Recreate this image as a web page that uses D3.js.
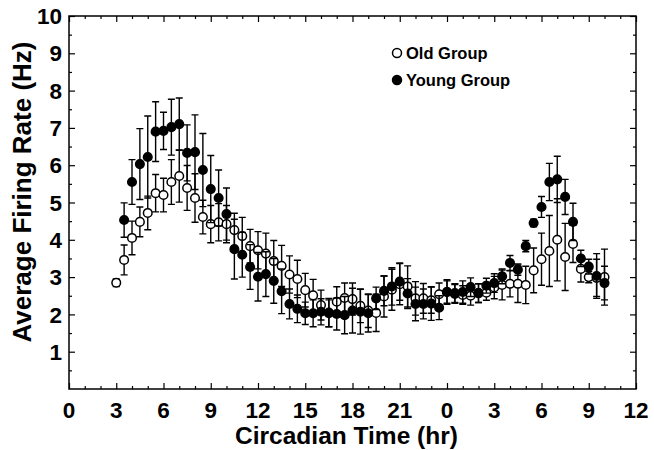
<!DOCTYPE html>
<html lang="en">
<head>
<meta charset="UTF-8">
<title>Average firing rate</title>
<style>
  body { margin: 0; background: #fff; }
  svg text { font-family: "Liberation Sans", Arial, sans-serif; font-weight: bold; fill: #000; }
</style>
</head>
<body>
<svg id="chart" width="654" height="450"></svg>
<script src="https://d3js.org/d3.v7.min.js"></script>
<script>
// circadian time of each sample (hr, continuous over 36 h)
const times = d3.range(3, 34.01, 0.5);

// old group, CT 3.0 .. 34.0
const oldMean = [2.85, 3.46, 4.05, 4.48, 4.72, 5.25, 5.2, 5.55, 5.71, 5.39,
  5.12, 4.61, 4.42, 4.47, 4.42, 4.26, 4.1, 3.83, 3.72, 3.63,
  3.43, 3.3, 3.07, 2.95, 2.65, 2.51, 2.25, 2.05, 2.34, 2.44,
  2.41, 2.23, 2.1, 2.04, 2.48, 2.66, 2.81, 2.75, 2.43, 2.43,
  2.38, 2.54, 2.6, 2.55, 2.52, 2.5, 2.57, 2.58, 2.72, 2.79,
  2.82, 2.82, 2.79, 3.18, 3.48, 3.7, 4.0, 3.54, 3.89, 3.22,
  3.0, 2.98, 3.0];
const oldErr = [0.1, 0.4, 0.45, 0.4, 0.45, 0.5, 0.45, 0.6, 0.7, 0.6,
  0.65, 0.45, 0.5, 0.5, 0.5, 0.45, 0.5, 0.45, 0.5, 0.55,
  0.55, 0.55, 0.5, 0.5, 0.45, 0.43, 0.4, 0.38, 0.4, 0.4,
  0.43, 0.45, 0.45, 0.5, 0.55, 0.55, 0.55, 0.55, 0.45, 0.4,
  0.35, 0.3, 0.3, 0.25, 0.25, 0.25, 0.25, 0.2, 0.3, 0.4,
  0.35, 0.5, 0.5, 0.6, 0.7, 0.95, 1.1, 0.9, 0.5, 0.35,
  0.15, 0.5, 0.75];

// young group, CT 3.5 .. 34.0 (no sample at CT 3.0)
const youngMean = [null, 4.53, 5.55, 6.03, 6.22, 6.9, 6.92, 7.02, 7.1, 6.33,
  6.35, 5.87, 5.36, 5.12, 4.69, 3.75, 3.6, 3.27, 3.01, 3.08,
  2.9, 2.62, 2.28, 2.15, 2.03, 2.03, 2.07, 2.03, 2.01, 1.98,
  2.1, 2.07, 2.03, 2.43, 2.63, 2.75, 2.88, 2.56, 2.28, 2.28,
  2.29, 2.18, 2.6, 2.57, 2.6, 2.73, 2.57, 2.77, 2.84, 3.02,
  3.38, 3.2, 3.83, 4.45, 4.88, 5.55, 5.62, 5.15, 4.48, 3.5,
  3.28, 3.03, 2.84];
const youngErr = [null, 0.46, 0.6, 0.95, 1.1, 0.8, 0.5, 0.75, 0.7, 0.75,
  1.0, 0.98, 0.9, 0.75, 0.7, 0.8, 0.6, 0.6, 0.65, 0.6,
  0.6, 0.6, 0.4, 0.37, 0.3, 0.36, 0.35, 0.36, 0.43, 0.5,
  0.6, 0.6, 0.5, 0.3, 0.4, 0.5, 0.5, 0.4, 0.45, 0.4,
  0.45, 0.32, 0.33, 0.25, 0.3, 0.25, 0.25, 0.2, 0.25, 0.2,
  0.2, 0.15, 0.15, 0.1, 0.28, 0.5, 0.62, 0.47, 0.5, 0.22,
  0.2, 0.6, 0.45];

const xTicks = [0, 3, 6, 9, 12, 15, 18, 21, 24, 27, 30, 33, 36];
const yTicks = [1, 2, 3, 4, 5, 6, 7, 8, 9, 10];

const svg = d3.select("#chart");
const margin = { top: 16, right: 18, bottom: 61, left: 69 };
const width = 654 - margin.left - margin.right;
const height = 450 - margin.top - margin.bottom;

const x = d3.scaleLinear().domain([0, 36]).range([0, width]);
const y = d3.scaleLinear().domain([0, 10]).range([height, 0]);

const g = svg.append("g").attr("transform", `translate(${margin.left},${margin.top})`);

// inward ticks on all four sides
const xMinor = d3.range(0, 36.01, 1).filter(t => t % 3 !== 0);
const yMinor = d3.range(0.5, 10, 1);

function ticks(axis, minor, major, transform) {
  [[minor, -3], [major, -6]].forEach(([vals, size]) => {
    g.append("g")
      .attr("transform", transform)
      .call(axis.tickValues(vals).tickSize(size).tickFormat(""))
      .call(sel => sel.select(".domain").remove())
      .selectAll(".tick line").attr("stroke", "#000").attr("stroke-width", 1.2);
  });
}
ticks(d3.axisBottom(x), xMinor, xTicks, `translate(0,${height})`);
ticks(d3.axisTop(x), xMinor, xTicks, "translate(0,0)");
ticks(d3.axisLeft(y), yMinor, yTicks, "translate(0,0)");
ticks(d3.axisRight(y), yMinor, yTicks, `translate(${width},0)`);

// frame
g.append("rect")
  .attr("width", width).attr("height", height)
  .attr("fill", "none").attr("stroke", "#000").attr("stroke-width", 1.5);

// tick labels
g.selectAll(".xlab")
  .data(xTicks)
  .enter().append("text")
  .attr("x", d => x(d))
  .attr("y", height + 29)
  .attr("text-anchor", "middle")
  .attr("font-size", 22.5)
  .text(d => d % 24);

g.selectAll(".ylab")
  .data(yTicks)
  .enter().append("text")
  .attr("x", -7)
  .attr("y", d => y(d))
  .attr("dy", "0.36em")
  .attr("text-anchor", "end")
  .attr("font-size", 22.5)
  .text(d => d);

// axis titles
svg.append("text")
  .attr("x", margin.left + width / 2 - 6)
  .attr("y", 444)
  .attr("text-anchor", "middle")
  .attr("font-size", 24.5)
  .text("Circadian Time (hr)");

svg.append("text")
  .attr("transform", `translate(31,${margin.top + 176}) rotate(-90)`)
  .attr("text-anchor", "middle")
  .attr("font-size", 26)
  .text("Average Firing Rate (Hz)");

// series
const oldData = times.map((t, i) => ({ t, m: oldMean[i], e: oldErr[i] }));
const youngData = times.map((t, i) => ({ t, m: youngMean[i], e: youngErr[i] })).filter(d => d.m !== null);

function drawSeries(data, fill) {
  const s = g.append("g");
  s.selectAll(".eb")
    .data(data)
    .enter().append("path")
    .attr("d", d => {
      const cx = x(d.t), y0 = y(d.m - d.e), y1 = y(d.m + d.e);
      return `M${cx},${y0}V${y1}M${cx - 3.5},${y0}H${cx + 3.5}M${cx - 3.5},${y1}H${cx + 3.5}`;
    })
    .attr("stroke", "#000").attr("stroke-width", 1.4).attr("fill", "none");
  s.selectAll("circle")
    .data(data)
    .enter().append("circle")
    .attr("cx", d => x(d.t))
    .attr("cy", d => y(d.m))
    .attr("r", 4.3)
    .attr("fill", fill)
    .attr("stroke", "#000").attr("stroke-width", 1.5);
}
drawSeries(oldData, "#fff");
drawSeries(youngData, "#000");

// legend
const legend = svg.append("g").attr("transform", "translate(397,0)");
[["Old Group", "#fff", 53], ["Young Group", "#000", 80]].forEach(([label, fill, ly]) => {
  legend.append("circle").attr("cx", 0).attr("cy", ly).attr("r", 4.5)
    .attr("fill", fill).attr("stroke", "#000").attr("stroke-width", 1.5);
  legend.append("text").attr("x", 9).attr("y", ly).attr("dy", "0.36em")
    .attr("font-size", 16.5).text(label);
});
</script>
</body>
</html>
